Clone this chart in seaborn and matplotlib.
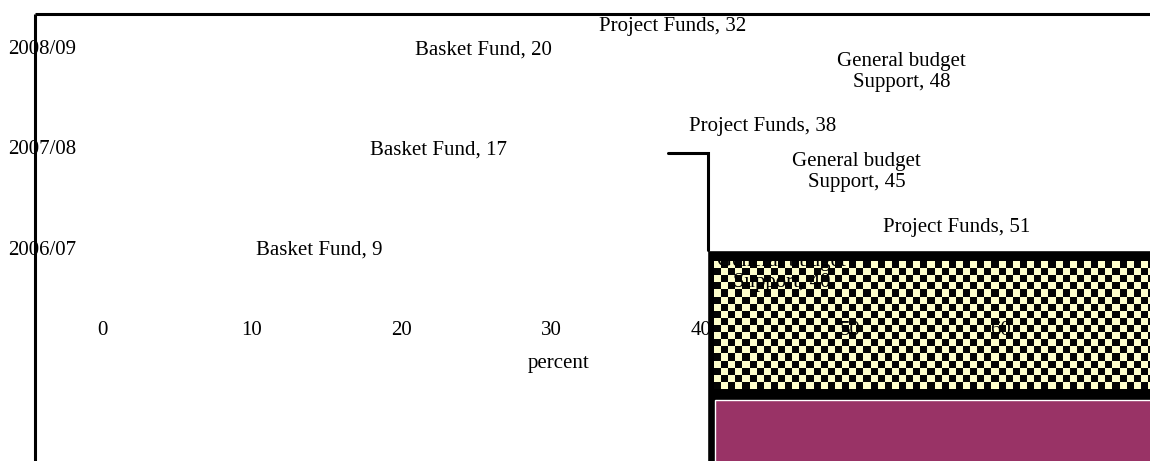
import numpy as np
import matplotlib
matplotlib.use("Agg")
import matplotlib.pyplot as plt
import seaborn as sns

# Source shares (percent) by fiscal year
years = ["2006/07", "2007/08", "2008/09"]
basket_fund = [9, 17, 20]
general_budget = [40, 45, 48]
project_funds = [51, 38, 32]
x_ticks = [0, 10, 20, 30, 40, 50, 60]
x_label = "percent"

sns.set_theme(style="white")
plt.rcParams["font.family"] = ["Liberation Serif", "DejaVu Serif"]

W, H = 1150, 461
fig = plt.figure(figsize=(W / 100, H / 100), dpi=100)
ax = fig.add_axes([0, 0, 1, 1])
ax.set_axis_off()

# data scale: 10 percent ~ 150 px, one category step ~ 100 px
X0_PX, PX_PER_X = 102, 14.97
ax.set_xlim(-X0_PX / PX_PER_X, (W - X0_PX) / PX_PER_X)
ax.set_ylim(-2.11, 2.5)

FS = 15
ink = "black"
ypos = np.arange(len(years))

# outer frame fragment
x_frame = -4.48
y_frame = 2.36
ax.plot([x_frame, 80], [y_frame, y_frame], color=ink, lw=2.2, solid_capstyle="butt", zorder=3)
ax.plot([x_frame, x_frame], [y_frame, -3], color=ink, lw=2.2, solid_capstyle="butt", zorder=3)

# step line leading into the series block
ax.plot([37.8, 40.48, 40.48], [0.97, 0.97, 0.0], color=ink, lw=2.2,
        solid_joinstyle="miter", zorder=3)

# series block: black backing, checkered and solid bars
ax.barh(-2.0, 40, left=40.42, height=4.0, color=ink, zorder=2)
chk_left = 40.88
chk_top, chk_bot = -0.12, -1.39
nrows, ncols = 18, 62
cell_x = 7.1 / PX_PER_X
checker = (np.add.outer(np.arange(nrows), np.arange(ncols)) % 2).astype(float)
cmap = matplotlib.colors.ListedColormap(["#FFFFCC", "#050505"])
ax.imshow(checker, cmap=cmap, interpolation="nearest", aspect="auto",
          extent=[chk_left, chk_left + ncols * cell_x, chk_bot, chk_top],
          zorder=2.5)
ax.barh(-1.5 - 0.64, 40, left=chk_left + 0.05, height=1.28, color="#993366", zorder=2.6)

# category labels
for y, name in zip(ypos, years):
    ax.text(-6.28, y, name, ha="left", va="center", fontsize=FS, color=ink, zorder=5)

# value labels
for y, v in zip(ypos, basket_fund):
    ax.text(v + 5.5, y, f"Basket Fund, {v}", ha="center", va="center",
            fontsize=FS, color=ink, zorder=5)
for y, v in zip(ypos, general_budget):
    ax.text(v + 5.4, y - 0.22, f"General budget\nSupport, {v}", ha="center", va="center",
            multialignment="center", fontsize=FS, color=ink, linespacing=1.15, zorder=5)
for y, v in zip(ypos, project_funds):
    ax.text(v + 6.1, y + 0.23, f"Project Funds, {v}", ha="center", va="center",
            fontsize=FS, color=ink, zorder=5)

# value axis tick labels and title
for t in x_ticks:
    ax.text(t, -0.8, str(t), ha="center", va="center", fontsize=FS, color=ink, zorder=5)
ax.text(30.5, -1.13, x_label, ha="center", va="center", fontsize=FS, color=ink, zorder=5)

fig.savefig("out.png", dpi=100)
